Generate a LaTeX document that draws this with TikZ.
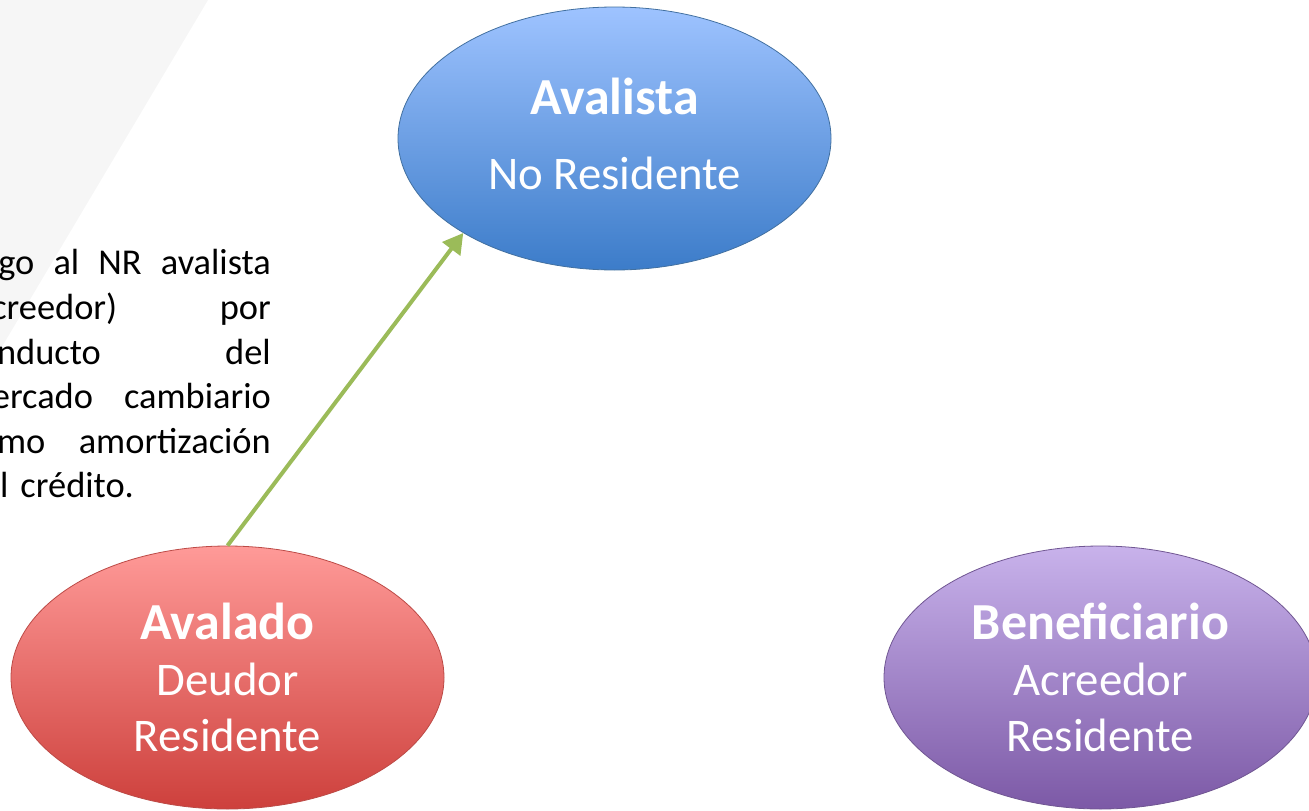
\documentclass[tikz,border=0pt]{standalone}
\usepackage{fontspec}
\setmainfont{Carlito}
\usepackage{tikz}
\usetikzlibrary{shapes.geometric, arrows.meta}
\definecolor{band}{RGB}{246, 246, 246}
\definecolor{bluetop}{RGB}{158, 195, 255}
\definecolor{bluebot}{RGB}{60, 124, 201}
\definecolor{blueline}{RGB}{66, 112, 160}
\definecolor{redtop}{RGB}{255, 154, 152}
\definecolor{redbot}{RGB}{205, 64, 60}
\definecolor{redline}{RGB}{188, 74, 70}
\definecolor{purpletop}{RGB}{200, 178, 235}
\definecolor{purplebot}{RGB}{124, 89, 166}
\definecolor{purpleline}{RGB}{112, 86, 146}
\definecolor{flow}{RGB}{155, 187, 89}
\newlength{\notawidth}
\setlength{\notawidth}{308pt}
\newcommand{\titulo}[1]{{\fontsize{52}{56}\bfseries #1}}
\newcommand{\linea}[1]{\makebox[\notawidth][s]{\spaceskip=0pt\relax #1}}

\begin{document}
\begin{tikzpicture}[x=1pt, y=1pt,
  party/.style={ellipse, line width=0.8pt, minimum width=433pt, minimum height=263pt,
    inner sep=0pt, text=white, align=center, font=\fontsize{46.8}{56}\selectfont},
  nota/.style={inner sep=0pt, text width=\notawidth, align=left,
    font=\fontsize{36.4}{44.6}\selectfont}]
  \useasboundingbox (0, 0) rectangle (1309, -811);

  \fill[band] (0, 0) -- (208, 0) -- (0, -350) -- cycle;

  \node[party, draw=blueline, top color=bluetop, bottom color=bluebot] (avalista) at (614.5, -138.5)
    {\titulo{Avalista}\\[19pt] No Residente\rule[-10pt]{0pt}{0pt}};
  \node[party, draw=redline, top color=redtop, bottom color=redbot] (avalado) at (227.5, -677.5)
    {\titulo{Avalado}\\ Deudor\\ Residente};
  \node[party, draw=purpleline, top color=purpletop, bottom color=purplebot] (beneficiario) at (1100.5, -677.5)
    {\titulo{Beneficiario}\\ Acreedor\\ Residente};

  \node[nota, anchor=north east] (pago) at (271, -249.5)
    {\linea{Pago al NR avalista}\\
     \linea{(acreedor) por}\\
     \linea{conducto del}\\
     \linea{mercado cambiario}\\
     \linea{como amortización}\\
     del crédito.};

  \draw[line width=4pt, flow, -{Triangle[length=20pt, width=22pt]}] (avalado.north) -- (avalista.212);
\end{tikzpicture}
\end{document}
